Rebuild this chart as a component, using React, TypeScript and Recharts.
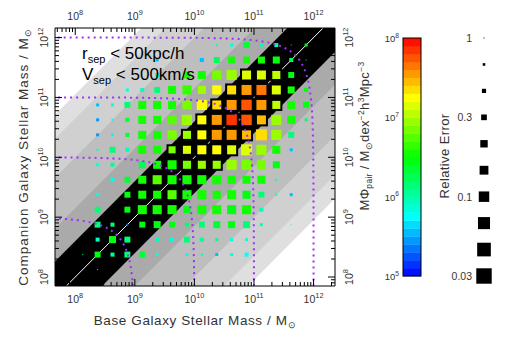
import React from 'react';
import { ComposedChart, XAxis, YAxis, Area, Line, Scatter } from 'recharts';

// log10 stellar-mass bin centres (base galaxy = x, companion = y)
const xCenters = [8.125, 8.375, 8.625, 8.875, 9.125, 9.375, 9.625, 9.875, 10.125, 10.375, 10.625, 10.875, 11.125, 11.375, 11.625, 11.875, 12.125];
const yCenters = [8.125, 8.375, 8.625, 8.875, 9.125, 9.375, 9.625, 9.875, 10.125, 10.375, 10.625, 10.875, 11.125, 11.375, 11.625, 11.875];

const n = null;
// log10 of M*Phi_pair per cell (row = companion bin, column = base bin)
const logPhiRows: (number | null)[][] = [
  [n, 6.2, n, n, n, n, n, n, n, n, n, n, n, n, n, n, n],
  [6.2, 6.4, 6.0, 6.15, 6.35, 5.85, n, 5.85, 5.9, 5.5, 5.8, 5.75, n, n, n, n, n],
  [n, 5.9, 6.4, 6.1, n, 5.9, 5.8, 6.1, 6.05, 6.05, 5.85, 5.85, n, n, n, n, n],
  [n, 6.1, 6.15, 5.3, 6.4, 6.45, 6.4, 6.1, 6.15, 6.35, 6.4, 6.15, 5.9, n, 5.7, n, n],
  [n, 6.1, n, 6.4, 6.5, 6.5, 6.55, 6.45, 6.5, 6.5, 6.45, 6.5, 5.9, n, n, n, n],
  [n, 5.85, n, 6.4, 6.5, 6.55, 6.7, 6.55, 6.5, 6.5, 6.5, 6.45, 6.15, 5.85, 5.5, n, n],
  [n, n, 5.8, 6.3, 6.5, 6.7, 6.55, 6.55, 6.5, 6.5, 6.5, 6.5, 6.5, 5.9, 5.9, n, n],
  [n, 5.85, 6.05, n, 6.2, 6.5, 6.55, 6.8, 6.9, 6.9, 6.9, 6.85, 6.8, 6.45, n, n, n],
  [5.9, 5.9, 6.1, 5.9, 6.5, 6.5, 6.8, 7.1, 7.2, 7.2, 7.15, 7.15, 6.9, 6.5, 5.5, n, n],
  [n, 5.45, 5.85, 6.3, 6.5, 6.5, 6.85, 6.95, 7.2, 7.5, 7.55, 7.4, 7.3, 6.9, 6.15, n, n],
  [n, 5.45, 5.85, 6.3, 6.5, 6.5, 6.75, 6.9, 7.2, 7.55, 7.8, 7.7, 7.4, 6.95, 6.5, 6.1, n],
  [n, 5.5, 5.8, 6.1, 6.5, 6.5, 6.55, 6.85, 7.2, 7.35, 7.55, 7.7, 7.5, 7.0, 6.5, 6.45, n],
  [n, n, n, 5.85, 5.9, 6.1, 6.5, 6.6, 6.9, 7.2, 7.35, 7.5, 7.65, 7.15, 6.5, 6.45, n],
  [n, n, n, n, n, 5.85, n, 6.5, 6.55, 6.85, 6.95, 7.15, 7.15, 7.0, 6.45, n, n],
  [n, n, n, n, n, 5.5, n, n, 5.5, 6.25, 6.5, 6.5, 6.5, 6.45, 6.25, 6.3, n],
  [n, n, n, n, n, n, n, n, n, 5.9, 5.85, 6.3, 5.9, 6.0, 6.3, 6.4, n],
];

// relative error per cell
const relErrRows: (number | null)[][] = [
  [n, 1, n, n, n, n, n, n, n, n, n, n, n, n, n, n, n],
  [1, 0.3, 0.48, 0.3, 0.3, 0.62, n, 0.62, 0.78, 0.62, 0.62, 0.48, n, n, n, n, n],
  [n, 0.48, 0.23, 0.3, n, 0.48, 0.48, 0.3, 0.48, 0.62, 0.62, 0.62, n, n, n, n, n],
  [n, 0.3, 0.48, 0.78, 0.3, 0.23, 0.3, 0.48, 0.3, 0.23, 0.23, 0.23, 0.62, n, 1, n, n],
  [n, 0.3, n, 0.3, 0.14, 0.14, 0.14, 0.23, 0.14, 0.14, 0.14, 0.14, 0.48, n, n, n, n],
  [n, 0.62, n, 0.3, 0.18, 0.18, 0.14, 0.14, 0.14, 0.18, 0.14, 0.18, 0.3, 0.78, 0.62, n, n],
  [n, n, 0.48, 0.3, 0.18, 0.14, 0.14, 0.14, 0.14, 0.14, 0.18, 0.18, 0.18, 0.78, 1, n, n],
  [n, 0.62, 0.48, n, 0.23, 0.18, 0.14, 0.11, 0.11, 0.11, 0.11, 0.11, 0.14, 0.23, n, n, n],
  [1, 0.78, 0.3, 0.48, 0.18, 0.18, 0.14, 0.11, 0.088, 0.088, 0.088, 0.088, 0.11, 0.18, 0.62, n, n],
  [n, 0.62, 0.62, 0.48, 0.18, 0.18, 0.14, 0.11, 0.088, 0.069, 0.069, 0.088, 0.088, 0.11, 0.3, n, n],
  [n, 0.62, 0.78, 0.48, 0.18, 0.18, 0.14, 0.11, 0.088, 0.069, 0.062, 0.062, 0.088, 0.11, 0.18, 0.62, n],
  [n, 0.62, 0.62, 0.3, 0.18, 0.18, 0.18, 0.14, 0.11, 0.088, 0.069, 0.062, 0.069, 0.11, 0.18, 0.3, n],
  [n, n, n, 0.62, 0.48, 0.3, 0.18, 0.14, 0.18, 0.14, 0.088, 0.069, 0.069, 0.088, 0.23, 0.48, n],
  [n, n, n, n, n, 0.48, n, 0.23, 0.18, 0.14, 0.11, 0.088, 0.088, 0.11, 0.3, n, n],
  [n, n, n, n, n, 0.62, n, n, 0.48, 0.3, 0.23, 0.23, 0.23, 0.23, 0.48, 1, n],
  [n, n, n, n, n, n, n, n, n, 0.78, 0.62, 0.3, 0.62, 0.48, 1, 0.62, n],
];

// mass-ratio bands (|log M2 - log M1| below each value), drawn widest first
const ratioBands = [3.05, 2.65, 2.0, 1.15, 0.6];
const bandFills = ['#dfdfdf', '#d0d0d0', '#bebebe', '#aaaaaa', '#000000'];
// total pair mass contours, log10
const totalMassContours = [9, 10, 11, 12];
const majorTicks = [8, 9, 10, 11, 12];
const colorbarTicks = [5, 6, 7, 8];
const errLegend = [1, 0.68, 0.46, 0.32, 0.21, 0.15, 0.1, 0.068, 0.046, 0.03];
const errLegendLabels = ['1', '', '', '0.3', '', '', '0.1', '', '', '0.03'];

const X_DOMAIN: [number, number] = [7.66, 12.36];
const Y_DOMAIN: [number, number] = [7.85, 12.16];
const FONT = "'Liberation Sans', Arial, sans-serif";
const TXT = '#333';

const sizeFromErr = (e: number) => 1 + 9.47 * -Math.log10(e);
const colorFor = (v: number) => {
  const bin = Math.max(0, Math.min(29, Math.floor((v - 5) / 0.1 + 1e-6)));
  const t = (bin + 0.5) / 30;
  return `hsl(${240 * (1 - t)}, 100%, 50%)`;
};

const makeTicks = (lo: number, hi: number) => {
  const out: number[] = [];
  for (let d = 6; d <= 12; d++) {
    for (let m = 1; m <= 9; m++) {
      const v = d + Math.log10(m);
      if (v >= lo && v <= hi) out.push(v);
    }
  }
  return out;
};
const xTicks = makeTicks(X_DOMAIN[0], X_DOMAIN[1]);
const yTicks = makeTicks(Y_DOMAIN[0], Y_DOMAIN[1]);
const isMajor = (v: number) => Math.abs(v - Math.round(v)) < 1e-6 && majorTicks.includes(Math.round(v));

const cells: { x: number; y: number; v: number; e: number }[] = [];
logPhiRows.forEach((row, j) =>
  row.forEach((v, k) => {
    const e = relErrRows[j][k];
    if (v != null && e != null) cells.push({ x: xCenters[k], y: yCenters[j], v, e });
  })
);

const bandData = (w: number) => [
  { x: 5, r: [5 - w, 5 + w] },
  { x: 15, r: [15 - w, 15 + w] },
];
const diagonal = [
  { x: 5, y: 5 },
  { x: 15, y: 15 },
];
const contourData = (N: number) => {
  const pts: { x: number; y: number }[] = [];
  for (let i = -100; i <= 100; i++) {
    const u = i * 0.05;
    const f = 1 / (1 + Math.pow(10, -u));
    pts.push({ x: N + Math.log10(f), y: N + Math.log10(1 - f) });
  }
  return pts;
};

const Label10 = ({ p, size = 10 }: { p: number; size?: number }) => (
  <>
    <tspan>10</tspan>
    <tspan dy={-size * 0.45} fontSize={size * 0.7}>{p}</tspan>
  </>
);

const BottomTick = (props: any) => {
  const { x, y, payload } = props;
  const v = payload.value;
  const major = isMajor(v);
  return (
    <g>
      <line x1={x} y1={y} x2={x} y2={y - (major ? 7 : 4)} stroke="#000" />
      {major && (
        <text x={x} y={y + 17} textAnchor="middle" fontFamily={FONT} fontSize={10.5} fill={TXT}>
          <Label10 p={Math.round(v)} size={10.5} />
        </text>
      )}
    </g>
  );
};
const TopTick = (props: any) => {
  const { x, y, payload } = props;
  const v = payload.value;
  const major = isMajor(v);
  return (
    <g>
      <line x1={x} y1={y} x2={x} y2={y + (major ? 7 : 4)} stroke="#000" />
      {major && (
        <text x={x} y={y - 8} textAnchor="middle" fontFamily={FONT} fontSize={10.5} fill={TXT}>
          <Label10 p={Math.round(v)} size={10.5} />
        </text>
      )}
    </g>
  );
};
const LeftTick = (props: any) => {
  const { x, y, payload } = props;
  const v = payload.value;
  const major = isMajor(v);
  return (
    <g>
      <line x1={x} y1={y} x2={x + (major ? 7 : 4)} y2={y} stroke="#000" />
      {major && (
        <text transform={`translate(${x - 7},${y}) rotate(-90)`} textAnchor="middle" fontFamily={FONT} fontSize={10.5} fill={TXT}>
          <Label10 p={Math.round(v)} size={10.5} />
        </text>
      )}
    </g>
  );
};
const RightTick = (props: any) => {
  const { x, y, payload } = props;
  const v = payload.value;
  const major = isMajor(v);
  return (
    <g>
      <line x1={x} y1={y} x2={x - (major ? 7 : 4)} y2={y} stroke="#000" />
      {major && (
        <text transform={`translate(${x + 18},${y}) rotate(-90)`} textAnchor="middle" fontFamily={FONT} fontSize={10.5} fill={TXT}>
          <Label10 p={Math.round(v)} size={10.5} />
        </text>
      )}
    </g>
  );
};

const Square = (p: any) => {
  const { cx, cy, payload } = p;
  if (cx == null || cy == null) return <g />;
  const s = sizeFromErr(payload.e);
  const inBand = Math.abs(payload.y - payload.x) <= 0.51;
  const outline = inBand && payload.v >= 6.8;
  return (
    <rect
      x={cx - s / 2}
      y={cy - s / 2}
      width={s}
      height={s}
      fill={colorFor(payload.v)}
      stroke={outline ? '#000' : 'none'}
      strokeWidth={outline ? 2 : 0}
    />
  );
};

const Overlay = () => {
  const cbTop = 38;
  const cbBottom = 276;
  const cbX = 403;
  const cbW = 18;
  const steps = 30;
  const stepH = (cbBottom - cbTop) / steps;
  const cbY = (v: number) => cbBottom - ((v - 5) / 3) * (cbBottom - cbTop);
  const legGap = (cbBottom - cbTop) / (errLegend.length - 1);
  return (
    <svg width={512} height={342} style={{ position: 'absolute', left: 0, top: 0, pointerEvents: 'none' }}>
      <text x={82} y={59} fontFamily={FONT} fontSize={17} fill="#000">
        r<tspan fontSize={11} dy={4}>sep</tspan>
        <tspan dy={-4}> &lt; 50kpc/h</tspan>
      </text>
      <text x={82} y={80} fontFamily={FONT} fontSize={17} fill="#000">
        V<tspan fontSize={11} dy={4}>sep</tspan>
        <tspan dy={-4}> &lt; 500km/s</tspan>
      </text>
      <text x={195} y={325} textAnchor="middle" fontFamily={FONT} fontSize={13.5} letterSpacing={0.6} fill={TXT}>
        Base Galaxy Stellar Mass / M<tspan fontSize={9} dy={3}>⊙</tspan>
      </text>
      <text transform="translate(28,157) rotate(-90)" textAnchor="middle" fontFamily={FONT} fontSize={13.5} letterSpacing={1} fill={TXT}>
        Companion Galaxy Stellar Mass / M<tspan fontSize={9} dy={3}>⊙</tspan>
      </text>
      {Array.from({ length: steps }).map((_, i) => (
        <rect key={i} x={cbX} y={cbBottom - (i + 1) * stepH} width={cbW} height={stepH + 0.3} fill={colorFor(5 + (i + 0.5) * 0.1)} />
      ))}
      <rect x={cbX} y={cbTop} width={cbW} height={cbBottom - cbTop} fill="none" stroke="#000" strokeWidth={1} />
      {colorbarTicks.map((t) => (
        <text key={t} x={399} y={cbY(t) + 4} textAnchor="end" fontFamily={FONT} fontSize={9.5} fill={TXT}>
          <Label10 p={t} size={9.5} />
        </text>
      ))}
      <text transform="translate(369,136) rotate(-90)" textAnchor="middle" fontFamily={FONT} fontSize={13} letterSpacing={0.3} fill={TXT}>
        MΦ<tspan fontSize={8.5} dy={3}>pair</tspan>
        <tspan dy={-3}> / M</tspan>
        <tspan fontSize={8.5} dy={3}>⊙</tspan>
        <tspan dy={-3}>dex</tspan>
        <tspan fontSize={8.5} dy={-5}>−2</tspan>
        <tspan dy={5}>h</tspan>
        <tspan fontSize={8.5} dy={-5}>3</tspan>
        <tspan dy={5}>Mpc</tspan>
        <tspan fontSize={8.5} dy={-5}>−3</tspan>
      </text>
      <text transform="translate(449,156) rotate(-90)" textAnchor="middle" fontFamily={FONT} fontSize={13} letterSpacing={0.4} fill={TXT}>
        Relative Error
      </text>
      {errLegend.map((e, i) => {
        const s = sizeFromErr(e);
        const cy = cbTop + i * legGap;
        return (
          <g key={i}>
            <rect x={484 - s / 2} y={cy - s / 2} width={s} height={s} fill="#000" />
            {errLegendLabels[i] && (
              <text x={472} y={cy + 4} textAnchor="end" fontFamily={FONT} fontSize={10.5} fill={TXT}>
                {errLegendLabels[i]}
              </text>
            )}
          </g>
        );
      })}
    </svg>
  );
};

export default function App() {
  return (
    <div style={{ position: 'absolute', left: 0, top: 0, width: 512, height: 342, background: '#fff' }}>
      <ComposedChart width={512} height={342} margin={{ top: 0, right: 0, bottom: 0, left: 0 }}>
        <XAxis
          xAxisId={0}
          type="number"
          dataKey="x"
          domain={X_DOMAIN}
          allowDataOverflow
          ticks={xTicks}
          interval={0}
          tick={(p: any) => <BottomTick {...p} />}
          tickLine={false}
          tickSize={0}
          tickMargin={0}
          height={56}
          axisLine={{ stroke: '#000' }}
        />
        <XAxis
          xAxisId="top"
          orientation="top"
          type="number"
          dataKey="x"
          domain={X_DOMAIN}
          allowDataOverflow
          ticks={xTicks}
          interval={0}
          tick={(p: any) => <TopTick {...p} />}
          tickLine={false}
          tickSize={0}
          tickMargin={0}
          height={28}
          axisLine={{ stroke: '#000' }}
        />
        <YAxis
          yAxisId={0}
          type="number"
          dataKey="y"
          domain={Y_DOMAIN}
          allowDataOverflow
          ticks={yTicks}
          interval={0}
          tick={(p: any) => <LeftTick {...p} />}
          tickLine={false}
          tickSize={0}
          tickMargin={0}
          width={55}
          axisLine={{ stroke: '#000' }}
        />
        <YAxis
          yAxisId="right"
          orientation="right"
          type="number"
          dataKey="y"
          domain={Y_DOMAIN}
          allowDataOverflow
          ticks={yTicks}
          interval={0}
          tick={(p: any) => <RightTick {...p} />}
          tickLine={false}
          tickSize={0}
          tickMargin={0}
          width={177}
          axisLine={{ stroke: '#000' }}
        />
        {ratioBands.map((w, i) => (
          <Area
            key={`band${i}`}
            data={bandData(w)}
            dataKey="r"
            type="linear"
            stroke="none"
            fill={bandFills[i]}
            fillOpacity={1}
            dot={false}
            activeDot={false}
            isAnimationActive={false}
          />
        ))}
        <Line data={diagonal} dataKey="y" type="linear" stroke="#fff" strokeWidth={1} dot={false} activeDot={false} isAnimationActive={false} />
        <Scatter data={cells} shape={(p: any) => <Square {...p} />} isAnimationActive={false} />
        {totalMassContours.map((N) => (
          <Line
            key={`c${N}`}
            data={contourData(N)}
            dataKey="y"
            type="linear"
            stroke="#9b30ff"
            strokeWidth={2}
            strokeDasharray="2 4"
            dot={false}
            activeDot={false}
            isAnimationActive={false}
            zIndex={700}
          />
        ))}
        <Scatter xAxisId="top" yAxisId="right" data={[]} isAnimationActive={false} />
      </ComposedChart>
      <Overlay />
    </div>
  );
}
